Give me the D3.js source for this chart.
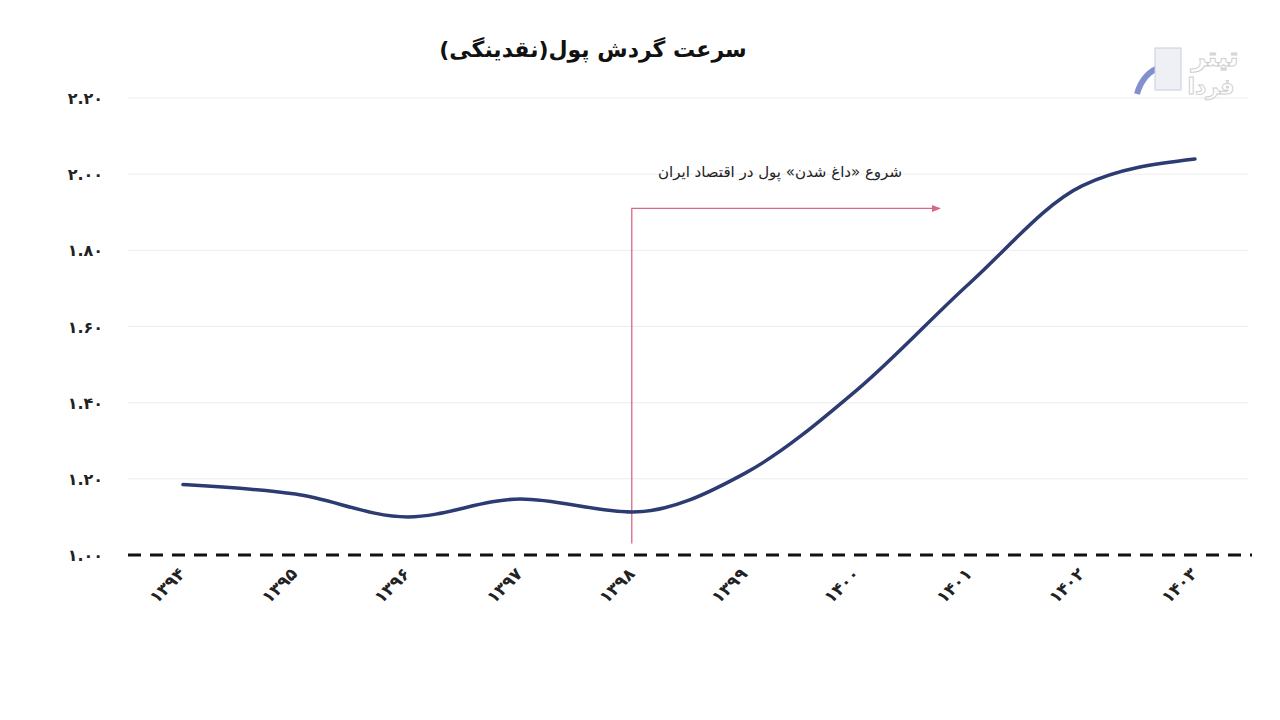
<!DOCTYPE html>
<html>
<head>
<meta charset="utf-8">
<script src="https://cdn.jsdelivr.net/npm/d3@7"></script>
<style>
  body { margin: 0; background: #fff; }
  svg text { font-family: "DejaVu Sans", sans-serif; }
</style>
</head>
<body>
<div id="chart"></div>
<script>
// data
const years = ["1394", "1395", "1396", "1397", "1398", "1399", "1400", "1401", "1402", "1403"]
const velocity = [1.185, 1.16, 1.10, 1.147, 1.113, 1.215, 1.435, 1.715, 1.97, 2.04]
const yTicks = [1.0, 1.2, 1.4, 1.6, 1.8, 2.0, 2.2]
const titleText = "سرعت گردش پول(نقدینگی)"
const noteText = "شروع «داغ شدن» پول در اقتصاد ایران"
const noteYear = "1398"
const noteLevel = 1.91

const W = 1280, H = 720

const faDigits = s => String(s).replace(/\d/g, d => "۰۱۲۳۴۵۶۷۸۹"[d])

const svg = d3.select("#chart").append("svg")
    .attr("width", W)
    .attr("height", H)

const x = d3.scalePoint().domain(years).range([183, 1195])
const y = d3.scaleLinear().domain([1.0, 2.2]).range([555, 98])

// gridlines
svg.append("g")
    .selectAll("line")
    .data(yTicks.filter(d => d > 1))
    .join("line")
    .attr("x1", 128).attr("x2", 1248)
    .attr("y1", d => y(d)).attr("y2", d => y(d))
    .attr("stroke", "#ececec")
    .attr("stroke-width", 1)

// y labels
svg.append("g")
    .selectAll("text")
    .data(yTicks)
    .join("text")
    .attr("x", 103)
    .attr("y", d => y(d) + 6)
    .attr("text-anchor", "end")
    .attr("font-size", 16)
    .attr("font-weight", "bold")
    .attr("fill", "#222")
    .text(d => faDigits(d.toFixed(2)))

// annotation
const ax = x(noteYear)
svg.append("defs").append("marker")
    .attr("id", "arrow")
    .attr("viewBox", "0 0 10 10")
    .attr("refX", 9).attr("refY", 5)
    .attr("markerWidth", 7).attr("markerHeight", 7)
    .attr("orient", "auto")
    .append("path")
    .attr("d", "M0,1 L10,5 L0,9 Z")
    .attr("fill", "#d66a85")

svg.append("path")
    .attr("d", `M${ax - 1},${y(1.03)} V${y(noteLevel)} H940`)
    .attr("fill", "none")
    .attr("stroke", "#d66a85")
    .attr("stroke-width", 1.3)
    .attr("marker-end", "url(#arrow)")

svg.append("text")
    .attr("x", 780)
    .attr("y", 177)
    .attr("text-anchor", "middle")
    .attr("direction", "rtl")
    .attr("font-size", 15)
    .attr("fill", "#222")
    .text(noteText)

// base line
svg.append("line")
    .attr("x1", 128).attr("x2", 1252)
    .attr("y1", y(1.0)).attr("y2", y(1.0))
    .attr("stroke", "#111")
    .attr("stroke-width", 3)
    .attr("stroke-dasharray", "13,9")

// the series
const line = d3.line()
    .x((d, i) => x(years[i]))
    .y(d => y(d))
    .curve(d3.curveMonotoneX)

svg.append("path")
    .datum(velocity)
    .attr("d", line)
    .attr("fill", "none")
    .attr("stroke", "#2c3b72")
    .attr("stroke-width", 3.5)
    .attr("stroke-linecap", "round")

// x labels
svg.append("g")
    .selectAll("text")
    .data(years)
    .join("text")
    .attr("transform", d => `translate(${x(d) + 3},${575}) rotate(-45)`)
    .attr("text-anchor", "end")
    .attr("font-size", 17)
    .attr("font-weight", "bold")
    .attr("fill", "#222")
    .text(d => faDigits(d))

// title
svg.append("text")
    .attr("x", 593)
    .attr("y", 57)
    .attr("text-anchor", "middle")
    .attr("direction", "rtl")
    .attr("font-size", 22)
    .attr("font-weight", "bold")
    .attr("fill", "#111")
    .text(titleText)

// faint logo in the corner
const logo = svg.append("g").attr("transform", "translate(1135,38)")
logo.append("path")
    .attr("d", "M2,56 Q8,34 28,28")
    .attr("fill", "none")
    .attr("stroke", "#4a63b8")
    .attr("stroke-width", 6)
    .attr("opacity", 0.7)
logo.append("rect")
    .attr("x", 20).attr("y", 10).attr("width", 26).attr("height", 42)
    .attr("fill", "#eef0f6").attr("stroke", "#c9cde0")
logo.append("text")
    .attr("x", 80).attr("y", 28)
    .attr("text-anchor", "middle")
    .attr("direction", "rtl")
    .attr("font-size", 26)
    .attr("font-weight", "bold")
    .attr("fill", "none")
    .attr("stroke", "#cfcfcf")
    .attr("stroke-width", 1)
    .text("تیتر")
logo.append("text")
    .attr("x", 76).attr("y", 56)
    .attr("text-anchor", "middle")
    .attr("direction", "rtl")
    .attr("font-size", 22)
    .attr("font-weight", "bold")
    .attr("fill", "none")
    .attr("stroke", "#cfcfcf")
    .attr("stroke-width", 1)
    .text("فردا")
</script>
</body>
</html>
